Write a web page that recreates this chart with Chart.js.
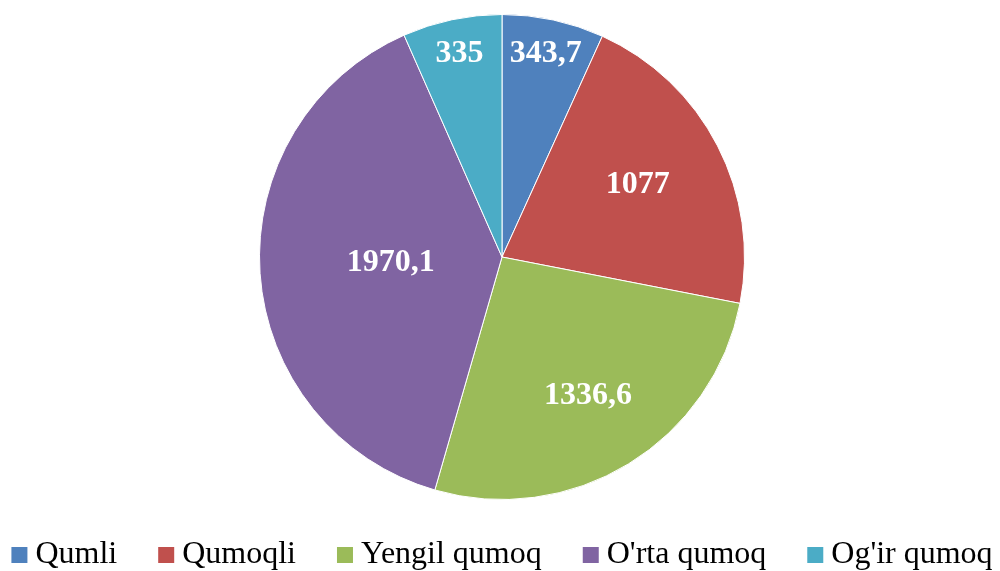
<!DOCTYPE html>
<html><head><meta charset="utf-8">
<script src="https://cdn.jsdelivr.net/npm/chart.js@4"></script>
<style>html,body{margin:0;padding:0;background:#fff;}#wrap{width:1000px;height:571px;}</style>
</head><body><div id="wrap"><canvas id="c" width="1000" height="571"></canvas></div>
<script>
const categories = ["Qumli", "Qumoqli", "Yengil qumoq", "O'rta qumoq", "Og'ir qumoq"];
const values = [343.7, 1077, 1336.6, 1970.1, 335];
const valueLabels = ["343,7", "1077", "1336,6", "1970,1", "335"];
const colors = ["#4F81BD", "#C0504D", "#9BBB59", "#8064A2", "#4BACC6"];
const labelRadius = [0.85, 0.63, 0.68, 0.46, 0.85];

const labelPlugin = {
  id: 'valueLabels',
  afterDatasetsDraw(chart) {
    const ctx = chart.ctx;
    const meta = chart.getDatasetMeta(0);
    ctx.save();
    ctx.fillStyle = '#fff';
    ctx.font = 'bold 32px "Liberation Serif", serif';
    ctx.textAlign = 'center';
    ctx.textBaseline = 'middle';
    meta.data.forEach((arc, i) => {
      const p = arc.getProps(['x','y','startAngle','endAngle','outerRadius'], true);
      const a = (p.startAngle + p.endAngle) / 2;
      const r = p.outerRadius * labelRadius[i];
      ctx.fillText(valueLabels[i], p.x + Math.cos(a) * r, p.y + Math.sin(a) * r - 2);
    });
    ctx.restore();
  }
};

const legendPlugin = {
  id: 'customLegend',
  afterDraw(chart) {
    const ctx = chart.ctx;
    const items = chart.options.plugins.legend.labels.generateLabels(chart);
    ctx.save();
    ctx.font = '32px "Liberation Serif", serif';
    ctx.textBaseline = 'middle';
    ctx.textAlign = 'left';
    const box = 16, gapText = 8, gapItem = 41;
    const widths = items.map(it => box + gapText + ctx.measureText(it.text).width);
    const total = widths.reduce((s, w) => s + w, 0) + gapItem * (items.length - 1);
    let x = (chart.width - total) / 2 + 2;
    const y = 555;
    items.forEach((it, i) => {
      ctx.fillStyle = it.fillStyle;
      ctx.fillRect(x, y - 8, box, box);
      ctx.fillStyle = '#000';
      ctx.fillText(it.text, x + box + gapText, y);
      x += widths[i] + gapItem;
    });
    ctx.restore();
  }
};

new Chart(document.getElementById('c'), {
  type: 'pie',
  data: { labels: categories, datasets: [{ data: values, backgroundColor: colors, borderColor: '#fff', borderWidth: 1 }] },
  options: {
    responsive: false,
    animation: false,
    layout: { padding: { top: 14, bottom: 71, left: 4 } },
    plugins: {
      tooltip: { enabled: false },
      legend: { display: false }
    }
  },
  plugins: [labelPlugin, legendPlugin]
});
</script></body></html>
